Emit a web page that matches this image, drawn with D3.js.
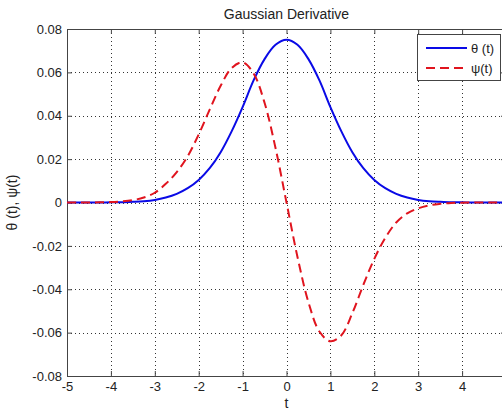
<!DOCTYPE html>
<html>
<head>
<meta charset="utf-8">
<script src="https://cdn.jsdelivr.net/npm/d3@7/dist/d3.min.js"></script>
<style>
  html, body { margin: 0; padding: 0; background: #fff; }
  svg { display: block; font-family: "Liberation Sans", Arial, sans-serif; }
</style>
</head>
<body>
<svg id="chart" width="502" height="410"></svg>
<script>
// Sample positions along t
const tValues = [-5, -4.75, -4.5, -4.25, -4, -3.75, -3.5, -3.25, -3, -2.75, -2.5, -2.25, -2, -1.75, -1.5, -1.25, -1, -0.75, -0.5, -0.25,
  0, 0.25, 0.5, 0.75, 1, 1.25, 1.5, 1.75, 2, 2.25, 2.5, 2.75, 3, 3.25, 3.5, 3.75, 4, 4.25, 4.5, 4.75, 5];

// θ(t): the Gaussian
const thetaValues = [0, 0, 0, 0, 0.0001, 0.0001, 0.0003, 0.0006, 0.0012, 0.0023, 0.0040, 0.0066, 0.0104, 0.0158, 0.0232, 0.0328, 0.0440, 0.0563, 0.0661, 0.0727,
  0.0750, 0.0727, 0.0661, 0.0563, 0.0440, 0.0328, 0.0232, 0.0158, 0.0104, 0.0066, 0.0040, 0.0023, 0.0012, 0.0006, 0.0003, 0.0001, 0.0001, 0, 0, 0, 0];

// ψ(t): its derivative wavelet
const psiValues = [0, 0, 0, 0.0001, 0.0002, 0.0005, 0.0011, 0.0023, 0.0045, 0.0086, 0.0140, 0.0214, 0.0314, 0.0428, 0.0538, 0.0620, 0.0646, 0.0595, 0.0460, 0.0251,
  0, -0.0251, -0.0460, -0.0595, -0.0640, -0.0612, -0.0510, -0.0380, -0.0260, -0.0163, -0.0092, -0.0050, -0.0027, -0.0013, -0.0006, -0.0002, -0.0001, 0, 0, 0, 0];

const xTicks = [-5, -4, -3, -2, -1, 0, 1, 2, 3, 4, 5];
const xTickLabels = ["-5", "-4", "-3", "-2", "-1", "0", "1", "2", "3", "4", ""];
const yTicks = [-0.08, -0.06, -0.04, -0.02, 0, 0.02, 0.04, 0.06, 0.08];
const yTickLabels = ["-0.08", "-0.06", "-0.04", "-0.02", "0", "0.02", "0.04", "0.06", "0.08"];

const titleText = "Gaussian Derivative";
const xLabel = "t";
const yLabel = "θ (t), ψ(t)";
const legendLabels = ["θ (t)", "ψ(t)"];

const plot = { left: 67, top: 29, right: 506, bottom: 376 };

const svg = d3.select("#chart");

const x = d3.scaleLinear().domain([-5, 5]).range([plot.left, plot.right]);
const y = d3.scaleLinear().domain([-0.08, 0.08]).range([plot.bottom, plot.top]);

svg.append("defs").append("clipPath").attr("id", "plotClip")
  .append("rect")
  .attr("x", plot.left).attr("y", plot.top)
  .attr("width", plot.right - plot.left).attr("height", plot.bottom - plot.top);

// dotted grid
const grid = svg.append("g").attr("class", "grid");
grid.selectAll("line.gx").data(xTicks.filter(d => d > -5 && d < 5)).join("line")
  .attr("class", "gx")
  .attr("x1", d => Math.round(x(d)) + 0.5).attr("x2", d => Math.round(x(d)) + 0.5)
  .attr("y1", plot.top).attr("y2", plot.bottom)
  .attr("stroke", "#333").attr("stroke-width", 1).attr("stroke-dasharray", "1,3");
grid.selectAll("line.gy").data(yTicks.filter(d => d > -0.08 && d < 0.08)).join("line")
  .attr("class", "gy")
  .attr("y1", d => Math.round(y(d)) + 0.5).attr("y2", d => Math.round(y(d)) + 0.5)
  .attr("x1", plot.left).attr("x2", plot.right)
  .attr("stroke", "#333").attr("stroke-width", 1).attr("stroke-dasharray", "1,3");

// axes with inward ticks
const axisColor = "#444";
const fmtX = d => xTickLabels[xTicks.indexOf(d)];
const fmtY = d => yTickLabels[yTicks.indexOf(d)];

const gBottom = svg.append("g").attr("transform", `translate(0,${plot.bottom})`)
  .call(d3.axisBottom(x).tickValues(xTicks).tickSizeInner(-5).tickSizeOuter(0).tickPadding(6).tickFormat(fmtX));
const gTop = svg.append("g").attr("transform", `translate(0,${plot.top})`)
  .call(d3.axisTop(x).tickValues(xTicks).tickSizeInner(-5).tickSizeOuter(0).tickFormat(""));
const gLeft = svg.append("g").attr("transform", `translate(${plot.left},0)`)
  .call(d3.axisLeft(y).tickValues(yTicks).tickSizeInner(-5).tickSizeOuter(0).tickPadding(5).tickFormat(fmtY));
const gRight = svg.append("g").attr("transform", `translate(${plot.right},0)`)
  .call(d3.axisRight(y).tickValues(yTicks).tickSizeInner(-5).tickSizeOuter(0).tickFormat(""));

[gBottom, gTop, gLeft, gRight].forEach(g => {
  g.select(".domain").attr("stroke", axisColor).attr("stroke-width", 1);
  g.selectAll(".tick line").attr("stroke", axisColor);
  g.selectAll(".tick text").attr("fill", "#222").attr("font-size", 13)
    .attr("font-family", "'Liberation Sans', Arial, sans-serif");
});

// curves
const line = d3.line()
  .x((d, i) => x(tValues[i]))
  .y(d => y(d))
  .curve(d3.curveCatmullRom.alpha(0.5));

const curves = svg.append("g").attr("clip-path", "url(#plotClip)");
curves.append("path").datum(thetaValues)
  .attr("d", line).attr("fill", "none")
  .attr("stroke", "#0a0ae6").attr("stroke-width", 2);
curves.append("path").datum(psiValues)
  .attr("d", line).attr("fill", "none")
  .attr("stroke", "#e0141e").attr("stroke-width", 2).attr("stroke-dasharray", "9,5");

// title and axis labels
svg.append("text").attr("x", x(0)).attr("y", 18.5).attr("text-anchor", "middle")
  .attr("font-size", 14).attr("fill", "#222").text(titleText);
svg.append("text").attr("x", x(0)).attr("y", 408).attr("text-anchor", "middle")
  .attr("font-size", 14).attr("fill", "#222").text(xLabel);
svg.append("text").attr("transform", `translate(17,${y(0)}) rotate(-90)`).attr("text-anchor", "middle")
  .attr("font-size", 14).attr("fill", "#222").text(yLabel);

// legend
const legend = svg.append("g");
legend.append("rect").attr("x", 417.5).attr("y", 34.5).attr("width", 83).attr("height", 46)
  .attr("fill", "#fff").attr("stroke", axisColor).attr("stroke-width", 1);
const legendStyles = [
  { color: "#0a0ae6", dash: null },
  { color: "#e0141e", dash: "9,5" }
];
legendLabels.forEach((lab, i) => {
  const ly = 48 + i * 20;
  legend.append("line").attr("x1", 426).attr("x2", 467).attr("y1", ly).attr("y2", ly)
    .attr("stroke", legendStyles[i].color).attr("stroke-width", 2)
    .attr("stroke-dasharray", legendStyles[i].dash);
  legend.append("text").attr("x", 471).attr("y", ly + 4.5)
    .attr("font-size", 13).attr("fill", "#222").text(lab);
});
</script>
</body>
</html>
